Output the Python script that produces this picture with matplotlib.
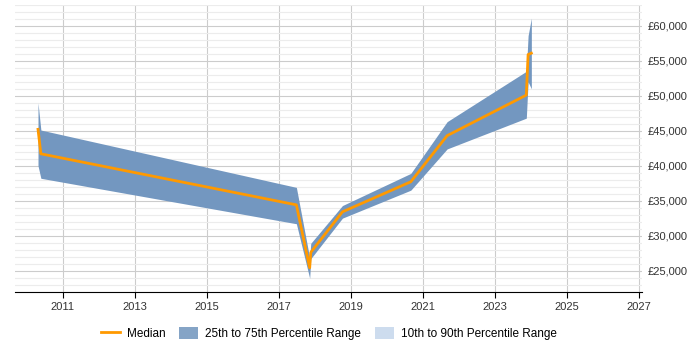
import numpy as np
import matplotlib
matplotlib.use("Agg")
import matplotlib.pyplot as plt
import matplotlib.ticker as ticker
from matplotlib.patches import Patch
from matplotlib.lines import Line2D

plt.rcParams['font.family'] = ['Liberation Sans', 'DejaVu Sans']

#Data (decimal years)
years = [2010.31, 2010.39, 2017.49, 2017.86, 2017.89, 2018.77, 2020.67, 2021.68, 2023.88, 2023.93, 2024.02]
p25 = [40000, 38200, 31700, 23900, 26700, 32500, 36500, 42400, 46800, 52000, 51000]
median = [45200, 41700, 34400, 25400, 27600, 33400, 37700, 44300, 50100, 55900, 56100]
p75 = [49000, 45100, 36900, 26800, 28900, 34300, 38900, 46300, 53500, 58600, 61100]

x_ticks = [2011, 2013, 2015, 2017, 2019, 2021, 2023, 2025, 2027]

#Colours
band_color = '#7397c0'
outer_color = '#cddcee'
median_color = '#ff9900'

fig = plt.figure(figsize=(7, 3.5), dpi=100)
ax = fig.add_axes([0.0214, 0.166, 0.896, 0.820])

ax.fill_between(years, p25, p75, color=band_color, linewidth=0, zorder=2)
ax.plot(years, median, color=median_color, linewidth=2, zorder=3)

ax.set_xlim(2009.67, 2027.1)
ax.set_ylim(21950, 63000)
ax.set_xticks(x_ticks)

ax.yaxis.tick_right()
ax.yaxis.set_major_locator(ticker.MultipleLocator(5000))
ax.yaxis.set_minor_locator(ticker.MultipleLocator(1000))
ax.yaxis.set_major_formatter(ticker.FuncFormatter(lambda v, p: '£{:,.0f}'.format(v)))
ax.tick_params(axis='y', which='both', length=0, labelsize=8, labelcolor='#333333', pad=4)
ax.tick_params(axis='x', length=4, labelsize=8, labelcolor='#333333', color='black')

ax.grid(axis='y', which='major', color='#cccccc', linewidth=0.8, zorder=0)
ax.grid(axis='y', which='minor', color='#ececec', linewidth=0.8, zorder=0)
ax.grid(axis='x', which='major', color='#cccccc', linewidth=0.8, zorder=0)
ax.set_axisbelow(True)

for side in ['left', 'right', 'top']:
    ax.spines[side].set_visible(False)
ax.spines['bottom'].set_color('black')

handles = [Line2D([], [], color=median_color, linewidth=2),
           Patch(facecolor='#85a4c6', edgecolor='none'),
           Patch(facecolor=outer_color, edgecolor='none')]
labels = ['Median', '25th to 75th Percentile Range', '10th to 90th Percentile Range']
fig.legend(handles, labels, loc='center', bbox_to_anchor=(0.47, 0.048), ncol=3,
           frameon=False, fontsize=8.5, handlelength=1.6, handleheight=1.2,
           columnspacing=1.2, handletextpad=0.6)

fig.savefig('out.png', dpi=100)
